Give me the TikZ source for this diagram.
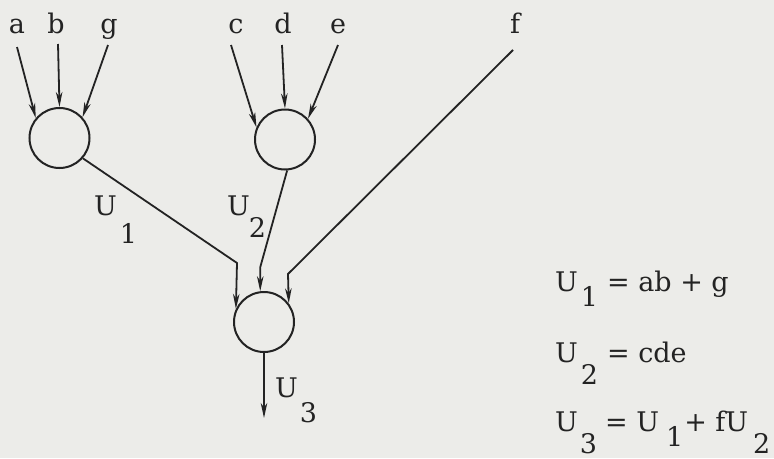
\documentclass[tikz,border=0pt]{standalone}
\usepackage{fontspec}
\setmainfont{DejaVu Serif}
\usetikzlibrary{arrows.meta}
\definecolor{paper}{RGB}{236,236,233}
\definecolor{ink}{RGB}{35,35,35}
\newcommand\Ulab[3]{U\kern#2pt\raisebox{-#3pt}{#1}}
\begin{document}
\begin{tikzpicture}[x=1pt,y=-1pt,
  font=\fontsize{27}{32}\selectfont,
  gate/.style={circle, draw=ink, line width=2pt, minimum size=60pt, inner sep=0pt},
  wire/.style={draw=ink, line width=1.8pt},
  arr/.style={wire, -{Stealth[length=15pt,width=6.5pt,inset=4.5pt]}},
  lab/.style={text=ink, inner sep=0pt, anchor=base},
  labw/.style={text=ink, inner sep=0pt, anchor=base west}]
\fill[paper] (0,0) rectangle (774,458);
\useasboundingbox (0,0) rectangle (774,458);
% gates
\node[gate] (g1) at (59.5,138) {};
\node[gate] (g2) at (285,139.5) {};
\node[gate] (g3) at (264,322) {};
% input letters
\node[lab] (la) at (17,33) {a};
\node[lab] (lb) at (56,33) {b};
\node[lab] (lg) at (109,33) {g};
\node[lab] (lc) at (236,33) {c};
\node[lab] (ld) at (283,33) {d};
\node[lab] (le) at (338,33) {e};
\node[lab] (lf) at (515,33) {f};
% wire starts
\coordinate (sa) at (17,47);
\coordinate (sb) at (58,44);
\coordinate (sg) at (108,45);
\coordinate (sc) at (231,45);
\coordinate (sd) at (282,45);
\coordinate (se) at (338,45);
\coordinate (sf) at (513,50);
% bends
\coordinate (k1) at (237,263);
\coordinate (k2) at (260.3,267);
\coordinate (kf) at (288,274);
\coordinate (out) at (264,418);
% wires
\draw[arr] (sa) -- (g1.140);
\draw[arr] (sb) -- (g1.north);
\draw[arr] (sg) -- (g1.42);
\draw[arr] (sc) -- (g2.157);
\draw[arr] (sd) -- (g2.north);
\draw[arr] (se) -- (g2.42);
\draw[arr] (g1.-41) -- (k1) -- (g3.155);
\draw[arr] (g2.-86) -- (k2) -- (g3.97);
\draw[arr] (sf) -- (kf) -- (g3.37);
\draw[arr] (g3.south) -- (out);
% wire labels
\node[labw] (u1) at (94,215) {\Ulab{1}{3}{28}};
\node[labw] (u2) at (227,215) {\Ulab{2}{-1}{22}};
\node[labw] (u3) at (275,397) {\Ulab{3}{2}{25}};
% equations
\node[labw] (e1) at (555,291) {\Ulab{1}{3}{15}\kern9pt= ab + g};
\node[labw] (e2) at (555,362) {\Ulab{2}{3}{22}\kern9pt= cde};
\node[labw] (e3) at (555,431) {\Ulab{3}{2}{22}\kern8pt= \Ulab{1}{7}{15}\kern1pt + fU\kern5pt\raisebox{-22pt}{2}};
\end{tikzpicture}
\end{document}
